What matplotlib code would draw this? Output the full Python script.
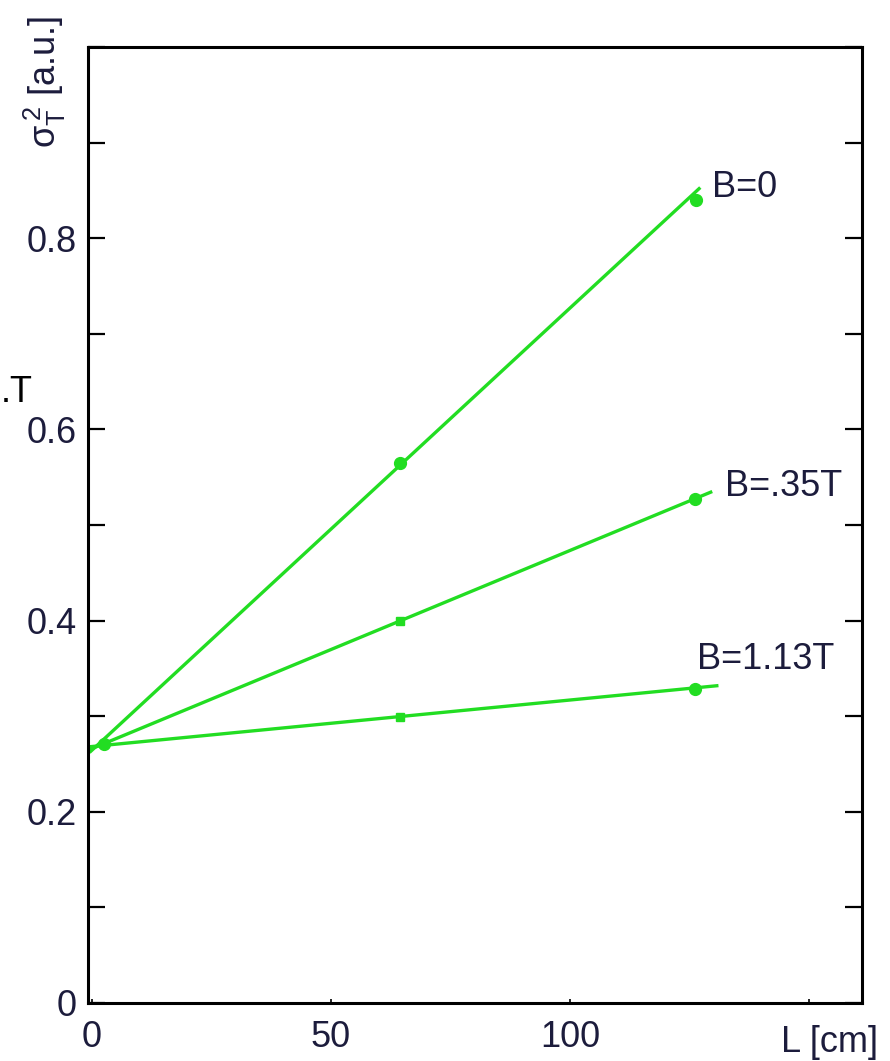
import numpy as np
import matplotlib
matplotlib.use("Agg")
from matplotlib import pyplot as plt
from matplotlib.ticker import MultipleLocator, FixedLocator

plt.rcParams['font.family'] = ['Liberation Sans', 'DejaVu Sans']
plt.rcParams['mathtext.fontset'] = 'custom'
plt.rcParams['mathtext.rm'] = 'Liberation Sans'
plt.rcParams['mathtext.it'] = 'Liberation Sans'

# measured points, L in cm and sigma_T^2 in a.u.
L_b0 = [2.5, 64.4, 126.2]
s_b0 = [0.271, 0.565, 0.840]
L_b035 = [64.4, 126.0]
s_b035 = [0.400, 0.527]
L_b113 = [64.4, 126.0]
s_b113 = [0.299, 0.328]

# straight-line fits (start/end)
fit_L = {"B=0": [-0.5, 127.2], "B=.35T": [-0.5, 129.7], "B=1.13T": [-0.5, 131.0]}
fit_s = {"B=0": [0.262, 0.853], "B=.35T": [0.265, 0.535], "B=1.13T": [0.268, 0.332]}

labels = ["B=0", "B=.35T", "B=1.13T"]
label_L = [129.7, 132.4, 126.6]
label_s = [0.853, 0.540, 0.359]

green = '#22dd22'
ink = '#1c1c3c'

fig = plt.figure(figsize=(8.9, 10.61), dpi=100)
ax = fig.add_axes([0.0989, 0.0547, 0.8696, 0.9010])

for lab in labels:
    ax.plot(fit_L[lab], fit_s[lab], color=green, linewidth=2.4, solid_capstyle='butt')

ax.plot(L_b0, s_b0, 'o', color=green, markersize=8.5)
ax.plot(L_b035[1:], s_b035[1:], 'o', color=green, markersize=8.5)
ax.plot(L_b113[1:], s_b113[1:], 'o', color=green, markersize=8.5)
ax.plot(L_b035[:1], s_b035[:1], 's', color=green, markersize=5.5)
ax.plot(L_b113[:1], s_b113[:1], 's', color=green, markersize=5.5)

for lab, lx, ly in zip(labels, label_L, label_s):
    ax.text(lx, ly, lab, fontsize=26, color=ink, ha='left', va='center')

ax.set_xlim(-0.8, 161)
ax.set_ylim(0, 1.0)

ax.xaxis.set_major_locator(FixedLocator([0, 50, 100]))
ax.xaxis.set_minor_locator(FixedLocator([150]))
ax.yaxis.set_major_locator(FixedLocator([0, 0.2, 0.4, 0.6, 0.8]))
ax.yaxis.set_minor_locator(MultipleLocator(0.1))
ax.set_xticklabels(['0', '50', '100'])
ax.set_yticklabels(['0', '0.2', '0.4', '0.6', '0.8'])

ax.tick_params(axis='y', which='both', direction='in', left=True, right=True,
               length=12, width=1.6, labelsize=26, labelcolor=ink, pad=8)
ax.tick_params(axis='x', which='both', direction='in', bottom=True, top=False,
               length=3, width=1.2, labelsize=26, labelcolor=ink, pad=12)

for sp in ax.spines.values():
    sp.set_linewidth(2.2)

fig.text(45 / 890, 1 - 82 / 1061, r'$\sigma_T^{\,2}$ [a.u.]', rotation=90,
         fontsize=26, color=ink, ha='center', va='center')
fig.text(878 / 890, 1 - 1043 / 1061, 'L [cm]', fontsize=26, color=ink,
         ha='right', va='center')
fig.text(0.001, 1 - 393 / 1061, '.T', fontsize=26, color='black',
         ha='left', va='center')

fig.savefig('out.png', dpi=100)
